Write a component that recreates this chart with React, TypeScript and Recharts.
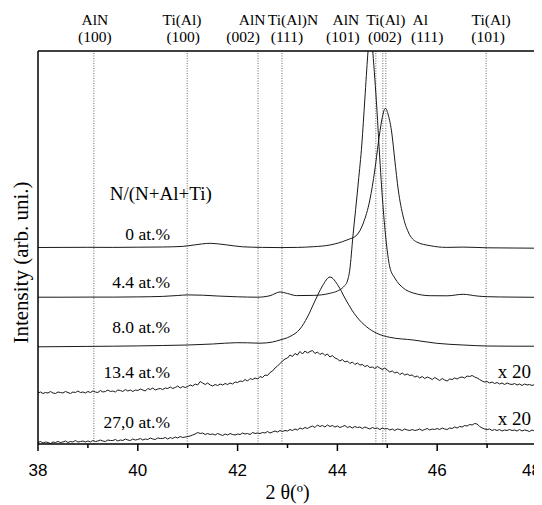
import React from 'react';
import { LineChart, Line, XAxis, YAxis, ReferenceLine, ReferenceDot, Label } from 'recharts';

const SERIF = '"Liberation Serif", "Times New Roman", "DejaVu Serif", serif';
const SANS = '"Liberation Sans", Arial, "DejaVu Sans", sans-serif';

// Phase reference lines (2θ, degrees)
const peakLines: number[] = [39.12, 40.99, 42.41, 42.89, 44.77, 44.91, 44.97, 46.98];

// Top labels (phase name row and (hkl) row)
const topLabelName: string[] = ['AlN', 'Ti(Al)', 'AlN', 'Ti(Al)N', 'AlN', 'Ti(Al)', 'Al', 'Ti(Al)'];
const topNamePos: number[] = [39.14, 40.886, 42.29, 43.11, 44.17, 44.97, 45.66, 47.08];
const topLabelHkl: string[] = ['(100)', '(100)', '(002)', '(111)', '(101)', '(002)', '(111)', '(101)'];
const topHklPos: number[] = [39.14, 40.91, 42.11, 42.99, 44.11, 44.95, 45.8, 47.02];

const bottomTicks: number[] = [38, 39, 40, 41, 42, 43, 44, 45, 46, 47, 48];

// Curve labels
const curveLabels: string[] = ['0 at.%', '4.4 at.%', '8.0 at.%', '13.4 at.%', '27,0 at.%'];
const curveLabelY: number[] = [204, 156, 111, 66, 16];
const curveLabelX = 40.645;
const scaleLabels: string[] = ['x 20', 'x 20'];
const scaleLabelY: number[] = [66, 19];
const scaleLabelX = 47.88;
const legendTitle = 'N/(N+Al+Ti)';
const legendTitleX = 40.46;
const legendTitleY = 244;

const Y_MAX = 393;

// Smooth curves [2θ, intensity]
const curve00: [number, number][] = [
  [38.0, 196.5], [38.5, 196.6], [39.0, 196.7], [39.5, 196.6], [40.0, 196.8], [40.5, 197], [40.9, 197.6],
  [41.15, 199.2], [41.45, 200.7], [41.75, 199.3], [42.1, 197.2], [42.5, 196.6], [42.85, 196.4], [43.2, 196.6],
  [43.52, 197.3], [43.85, 199], [44.19, 204], [44.39, 209], [44.52, 221], [44.65, 244], [44.75, 274],
  [44.82, 301], [44.89, 324], [44.96, 335.7], [45.02, 329], [45.09, 311], [45.15, 284], [45.22, 254],
  [45.32, 227], [45.42, 212], [45.59, 202], [45.86, 198.3], [46.19, 196.6], [46.52, 196.9], [47.0, 196.2],
  [47.5, 196], [48.0, 195.8],
];

const curve44: [number, number][] = [
  [38.0, 146.8], [38.5, 146.8], [39.0, 146.9], [39.5, 146.9], [40.0, 147.1], [40.5, 147.6], [40.8, 148.5],
  [41.0, 149.1], [41.3, 148.8], [41.6, 148], [42.0, 147.2], [42.4, 146.8], [42.65, 148.3], [42.85, 152],
  [43.0, 150.5], [43.18, 148.4], [43.52, 148.6], [43.85, 150.7], [44.0, 153], [44.12, 157], [44.2, 163],
  [44.25, 175], [44.31, 207], [44.42, 262], [44.49, 300], [44.55, 345], [44.61, 390], [44.665, 420],
  [44.71, 392], [44.79, 336], [44.85, 285], [44.92, 234], [44.99, 197], [45.05, 177], [45.15, 166],
  [45.32, 156], [45.52, 151], [45.86, 148.3], [46.2, 148.2], [46.52, 149.7], [46.8, 148], [47.0, 147.3],
  [47.5, 146.9], [48.0, 146.7],
];

const curve80: [number, number][] = [
  [38.0, 97.2], [38.5, 97.4], [39.0, 97.6], [39.5, 97.8], [40.0, 98.1], [40.5, 98.5], [41.0, 99], [41.5, 100],
  [41.98, 101.3], [42.2, 101.2], [42.45, 100.8], [42.7, 102], [42.85, 104], [43.05, 107.5], [43.25, 115],
  [43.4, 127], [43.55, 143], [43.7, 158], [43.85, 167], [44.02, 158], [44.15, 146], [44.29, 134], [44.39, 127],
  [44.59, 117], [44.79, 110.7], [45.05, 106.7], [45.52, 104], [45.99, 100.7], [46.52, 99], [47.0, 98],
  [47.5, 97.8], [48.0, 97.8],
];

// Noisy scans (x20) on a 0.05° grid
const scanX: number[] = [
  38, 38.05, 38.1, 38.15, 38.2, 38.25, 38.3, 38.35, 38.4, 38.45,
  38.5, 38.55, 38.6, 38.65, 38.7, 38.75, 38.8, 38.85, 38.9, 38.95,
  39, 39.05, 39.1, 39.15, 39.2, 39.25, 39.3, 39.35, 39.4, 39.45,
  39.5, 39.55, 39.6, 39.65, 39.7, 39.75, 39.8, 39.85, 39.9, 39.95,
  40, 40.05, 40.1, 40.15, 40.2, 40.25, 40.3, 40.35, 40.4, 40.45,
  40.5, 40.55, 40.6, 40.65, 40.7, 40.75, 40.8, 40.85, 40.9, 40.95,
  41, 41.05, 41.1, 41.15, 41.2, 41.25, 41.3, 41.35, 41.4, 41.45,
  41.5, 41.55, 41.6, 41.65, 41.7, 41.75, 41.8, 41.85, 41.9, 41.95,
  42, 42.05, 42.1, 42.15, 42.2, 42.25, 42.3, 42.35, 42.4, 42.45,
  42.5, 42.55, 42.6, 42.65, 42.7, 42.75, 42.8, 42.85, 42.9, 42.95,
  43, 43.05, 43.1, 43.15, 43.2, 43.25, 43.3, 43.35, 43.4, 43.45,
  43.5, 43.55, 43.6, 43.65, 43.7, 43.75, 43.8, 43.85, 43.9, 43.95,
  44, 44.05, 44.1, 44.15, 44.2, 44.25, 44.3, 44.35, 44.4, 44.45,
  44.5, 44.55, 44.6, 44.65, 44.7, 44.75, 44.8, 44.85, 44.9, 44.95,
  45, 45.05, 45.1, 45.15, 45.2, 45.25, 45.3, 45.35, 45.4, 45.45,
  45.5, 45.55, 45.6, 45.65, 45.7, 45.75, 45.8, 45.85, 45.9, 45.95,
  46, 46.05, 46.1, 46.15, 46.2, 46.25, 46.3, 46.35, 46.4, 46.45,
  46.5, 46.55, 46.6, 46.65, 46.7, 46.75, 46.8, 46.85, 46.9, 46.95,
  47, 47.05, 47.1, 47.15, 47.2, 47.25, 47.3, 47.35, 47.4, 47.45,
  47.5, 47.55, 47.6, 47.65, 47.7, 47.75, 47.8, 47.85, 47.9, 47.95,
  48,
];

const curve134: number[] = [
  51, 52, 50.5, 51.5, 51, 52.5, 51, 50.5, 52, 51.5,
  51, 52.5, 51.5, 50.5, 52, 51.5, 53, 51.5, 52, 51,
  52.5, 51.5, 53, 52, 51.5, 53.5, 52, 52.5, 54, 52.5,
  53, 52, 54, 53.5, 52.5, 54.5, 53, 54, 52.5, 54,
  53.5, 55, 54, 53, 55.5, 54.5, 56, 54, 55, 55.5,
  54.5, 56, 55.5, 57, 55.5, 56.5, 58, 56, 57.5, 56.5,
  57.5, 59, 58, 60, 59, 62.5, 61, 59.5, 61, 59,
  58, 59.5, 58.5, 60, 59, 60.5, 59.5, 61, 60, 62,
  61.5, 63, 62.5, 64.5, 63, 65.5, 64.5, 66, 65, 67.5,
  66.5, 69, 68.5, 71.5, 73, 76, 78, 80.5, 83, 85,
  86, 89, 87.5, 90.5, 89, 92.5, 90, 93, 91, 92.5,
  93.5, 90.5, 92, 89.5, 91, 88.5, 90, 87, 88.5, 86,
  85, 83, 84.5, 82, 83, 80.5, 82, 79.5, 81, 79,
  79.5, 77.5, 78.5, 76.5, 77, 75.5, 77.5, 76, 74.5, 76,
  74, 72, 73, 71, 72, 69.5, 71, 69, 70, 68.5,
  69, 67, 68, 66, 67.5, 65.5, 67, 66, 64.5, 66.5,
  65, 63.5, 65.5, 64, 63, 65, 64.5, 66, 65, 66.5,
  67, 66, 68, 67.5, 68.5, 67, 66, 64.5, 63, 62,
  62.5, 61, 62, 60.5, 61.5, 60, 61, 59.5, 61, 60,
  59.5, 60.5, 59, 60, 58.5, 60, 59, 59.5, 58.5, 59.5,
  59,
];

const curve270: number[] = [
  1.5, 2.5, 1, 2, 1.5, 0.5, 2, 1.5, 2.5, 1.5,
  2, 3, 1.5, 2.5, 2, 3.5, 2, 2.5, 3, 2,
  3, 2, 3.5, 2.5, 3, 4, 3, 2.5, 4, 3.5,
  3.5, 4.5, 3, 4, 3.5, 5, 4, 3.5, 5, 4,
  4.5, 5.5, 4, 5, 4.5, 6, 5, 4.5, 6, 5.5,
  5.5, 6.5, 5, 6.5, 5.5, 7, 6, 7.5, 6.5, 7,
  7.5, 8, 9, 10, 11.5, 10.5, 11, 9.5, 10.5, 9.5,
  10, 9, 10.5, 9.5, 8.5, 10, 9, 10.5, 9.5, 9,
  10, 9.5, 11, 10, 10.5, 9.5, 11.5, 10.5, 11, 10.5,
  11.5, 11, 12.5, 11, 12, 13, 12, 13.5, 12.5, 13.5,
  13, 14.5, 13.5, 15, 14, 16, 15, 16.5, 15.5, 17,
  18, 16.5, 19, 17.5, 18.5, 17, 19, 17.5, 18.5, 17,
  18, 16.5, 17.5, 18.5, 16.5, 17.5, 16, 17.5, 16.5, 17,
  15.5, 17, 16, 15, 16.5, 15.5, 16, 14.5, 16, 15,
  15.5, 14, 15, 13.5, 15, 14.5, 13.5, 15, 14, 13.5,
  14.5, 13.5, 14, 15, 13.5, 14.5, 15.5, 14, 15, 14.5,
  15.5, 14.5, 16, 15, 14.5, 16, 15.5, 17, 16, 17.5,
  17, 18.5, 18, 19.5, 19, 20.5, 20, 17.5, 16, 15,
  14.5, 15, 13.5, 14.5, 13.5, 14.5, 13, 14, 13.5, 14.5,
  13.5, 14, 13, 14.5, 13, 14, 13.5, 12.5, 14, 13,
  13.5,
];

const pairs = (pts: [number, number][]) => pts.map(([x, v]) => ({ x, v }));
const scan = (vals: number[]) => scanX.map((x, i) => ({ x, v: vals[i] }));

const series = [
  { key: 'c00', data: pairs(curve00), type: 'monotone' },
  { key: 'c44', data: pairs(curve44), type: 'monotone' },
  { key: 'c80', data: pairs(curve80), type: 'monotone' },
  { key: 'c134', data: scan(curve134), type: 'linear' },
  { key: 'c270', data: scan(curve270), type: 'linear' },
];

const BottomTick = (props: any) => {
  const { x, y, payload } = props;
  const major = payload.value % 2 === 0;
  const last = payload.value === 48;
  return (
    <g>
      <line x1={x} x2={x} y1={y} y2={y + (major ? 7 : 4)} stroke="#000" strokeWidth={1.5} />
      {major && (
        <text
          x={last ? x + 4 : x}
          y={y + 32}
          textAnchor={last ? 'end' : 'middle'}
          fontFamily={SANS}
          fontSize={17}
          fill="#000"
        >
          {payload.value}
        </text>
      )}
    </g>
  );
};

const textShape = (txt: string, anchor: 'start' | 'middle' | 'end', size: number, dy = 0) => (p: any) => (
  <text x={p.cx} y={p.cy + dy} textAnchor={anchor} fontFamily={SERIF} fontSize={size} fill="#000">
    {txt}
  </text>
);

const YTitle = (props: any) => {
  const vb = props.viewBox || { x: 0, y: 0, width: 30, height: 0 };
  const cx = vb.x + vb.width / 2 - 2;
  const cy = vb.y + vb.height / 2 + 15;
  return (
    <text
      x={cx}
      y={cy}
      transform={`rotate(-90, ${cx}, ${cy})`}
      textAnchor="middle"
      dy="0.35em"
      fontFamily={SERIF}
      fontSize={21}
      fill="#000"
    >
      Intensity (arb. uni.)
    </text>
  );
};

export default function App() {
  return (
    <LineChart width={534} height={497} margin={{ top: 0, right: 0, bottom: 0, left: 0 }}>
      <XAxis
        xAxisId="bottom"
        dataKey="x"
        type="number"
        domain={[38, 48]}
        allowDataOverflow
        ticks={bottomTicks}
        interval={0}
        tick={BottomTick}
        tickLine={false}
        tickSize={0}
        tickMargin={0}
        axisLine={{ stroke: '#000', strokeWidth: 1.5 }}
        height={61}
      >
        <Label value="2 θ(º)" position="insideBottom" offset={6} fontFamily={SERIF} fontSize={20} fill="#000" />
      </XAxis>
      <XAxis
        xAxisId="top"
        orientation="top"
        type="number"
        domain={[38, 48]}
        allowDataOverflow
        tick={false}
        tickLine={false}
        axisLine={{ stroke: '#000', strokeWidth: 1.5 }}
        height={43}
      />
      <YAxis
        yAxisId="left"
        type="number"
        domain={[0, Y_MAX]}
        allowDataOverflow
        tick={false}
        tickLine={false}
        axisLine={{ stroke: '#000', strokeWidth: 1.5 }}
        width={30}
      >
        <Label content={YTitle} />
      </YAxis>
      <YAxis
        yAxisId="right"
        orientation="right"
        type="number"
        domain={[0, Y_MAX]}
        allowDataOverflow
        tick={false}
        tickLine={false}
        axisLine={{ stroke: '#000', strokeWidth: 1.5 }}
        width={5}
      />
      {peakLines.map((p) => (
        <ReferenceLine
          key={`pl-${p}`}
          x={p}
          xAxisId="bottom"
          yAxisId="left"
          stroke="#666"
          strokeWidth={1}
          strokeDasharray="1 1.5"
        />
      ))}
      {series.map((s) => (
        <Line
          key={s.key}
          data={s.data}
          dataKey="v"
          xAxisId="bottom"
          yAxisId="left"
          type={s.type as any}
          stroke="#1a1a1a"
          strokeWidth={1}
          dot={false}
          activeDot={false}
          isAnimationActive={false}
        />
      ))}
      {topNamePos.map((p, i) => (
        <ReferenceDot
          key={`tn-${i}`}
          x={p}
          y={Y_MAX}
          xAxisId="bottom"
          yAxisId="left"
          r={0}
          ifOverflow="visible"
          shape={textShape(topLabelName[i], 'middle', 15.5, -26)}
        />
      ))}
      {topHklPos.map((p, i) => (
        <ReferenceDot
          key={`th-${i}`}
          x={p}
          y={Y_MAX}
          xAxisId="bottom"
          yAxisId="left"
          r={0}
          ifOverflow="visible"
          shape={textShape(topLabelHkl[i], 'middle', 15.5, -9)}
        />
      ))}
      <ReferenceDot
        x={legendTitleX}
        y={legendTitleY}
        xAxisId="bottom"
        yAxisId="left"
        r={0}
        shape={textShape(legendTitle, 'middle', 19)}
      />
      {curveLabels.map((t, i) => (
        <ReferenceDot
          key={`cl-${i}`}
          x={curveLabelX}
          y={curveLabelY[i]}
          xAxisId="bottom"
          yAxisId="left"
          r={0}
          shape={textShape(t, 'end', 17.5)}
        />
      ))}
      {scaleLabels.map((t, i) => (
        <ReferenceDot
          key={`sl-${i}`}
          x={scaleLabelX}
          y={scaleLabelY[i]}
          xAxisId="bottom"
          yAxisId="left"
          r={0}
          shape={textShape(t, 'end', 19)}
        />
      ))}
    </LineChart>
  );
}
